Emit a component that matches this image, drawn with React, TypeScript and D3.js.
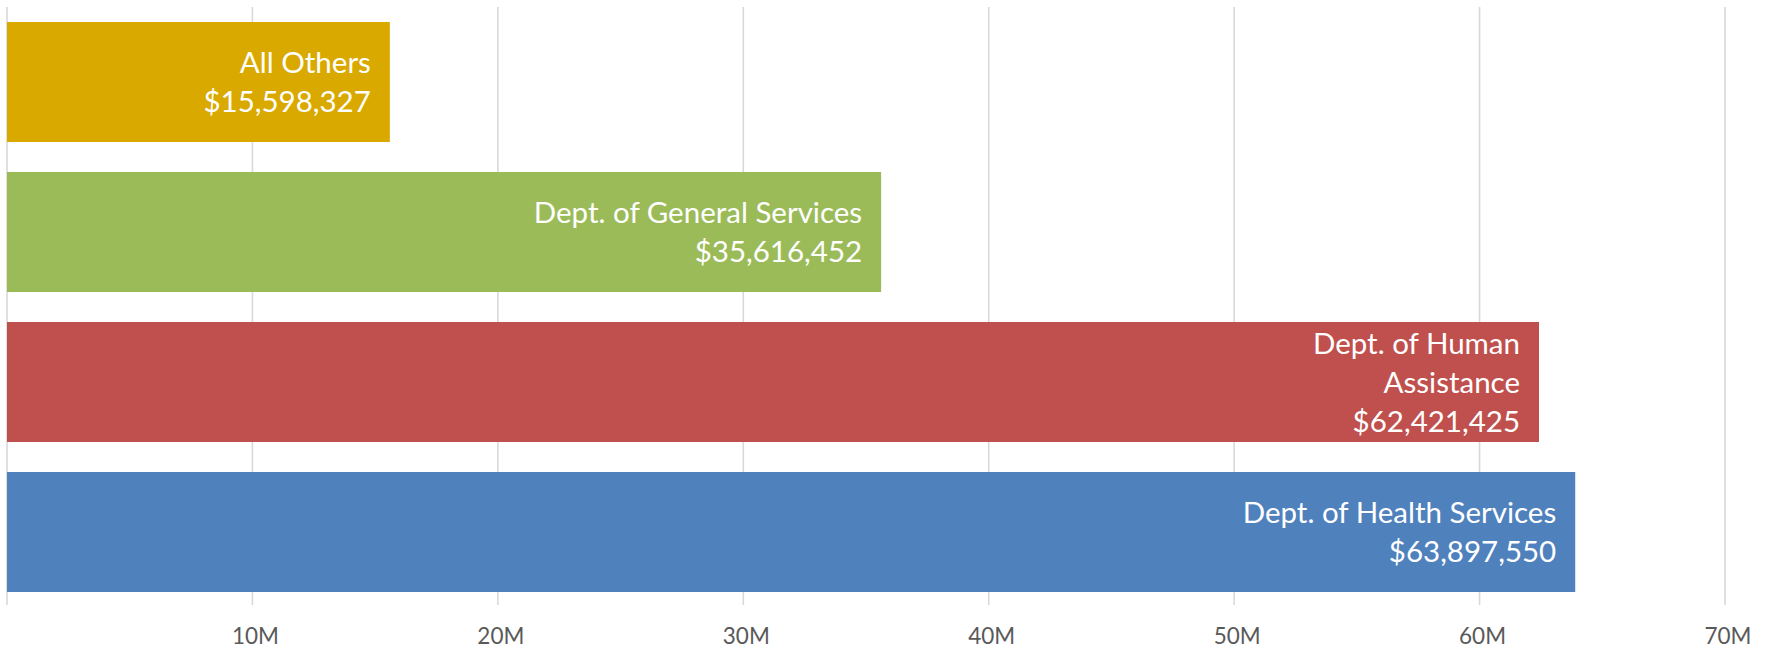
import React from "react";
import * as d3 from "d3";

const categories: string[] = [
  "All Others",
  "Dept. of General Services",
  "Dept. of Human Assistance",
  "Dept. of Health Services",
];
const labelLines: string[][] = [
  ["All Others"],
  ["Dept. of General Services"],
  ["Dept. of Human", "Assistance"],
  ["Dept. of Health Services"],
];
const values: number[] = [15598327, 35616452, 62421425, 63897550];
const colors: string[] = ["#DAA900", "#9BBB59", "#C0504D", "#4F81BD"];
const tickValues: number[] = [0, 10e6, 20e6, 30e6, 40e6, 50e6, 60e6, 70e6];
const tickLabels: string[] = ["", "10M", "20M", "30M", "40M", "50M", "60M", "70M"];

const W = 1766;
const H = 648;
const FONT = "Lato, 'Open Sans', sans-serif";

export default function App() {
  const x = d3.scaleLinear().domain([0, 70e6]).range([7, 1725]);
  const y = d3
    .scaleBand<string>()
    .domain(categories)
    .range([7, 607])
    .paddingInner(0.2)
    .paddingOuter(0.1);
  const fmt = d3.format("$,.0f");
  const lineH = 39;

  return (
    <svg
      width={W}
      height={H}
      style={{ position: "absolute", left: 0, top: 0, background: "#fff" }}
    >
      {tickValues.map((t, i) => (
        <g key={"g" + i}>
          <line
            x1={x(t)}
            x2={x(t)}
            y1={7}
            y2={605}
            stroke="#d9d9d9"
            strokeWidth={1.6}
          />
          <text
            x={x(t) + 3}
            y={644}
            textAnchor="middle"
            fontFamily={FONT}
            fontSize={22.5}
            fill="#595959"
          >
            {tickLabels[i]}
          </text>
        </g>
      ))}
      {categories.map((c, i) => {
        const y0 = y(c) as number;
        const bh = y.bandwidth();
        const lines = [...labelLines[i], fmt(values[i])];
        const cy = y0 + bh / 2;
        const firstBase = cy - ((lines.length - 1) * lineH) / 2 + 10.7;
        return (
          <g key={c}>
            <rect
              x={x(0)}
              y={y0}
              width={x(values[i]) - x(0)}
              height={bh}
              fill={colors[i]}
            />
            <text
              textAnchor="end"
              fontFamily={FONT}
              fontSize={29.5}
              fill="#ffffff"
            >
              {lines.map((l, j) => (
                <tspan key={j} x={x(values[i]) - 19} y={firstBase + j * lineH}>
                  {l}
                </tspan>
              ))}
            </text>
          </g>
        );
      })}
    </svg>
  );
}
